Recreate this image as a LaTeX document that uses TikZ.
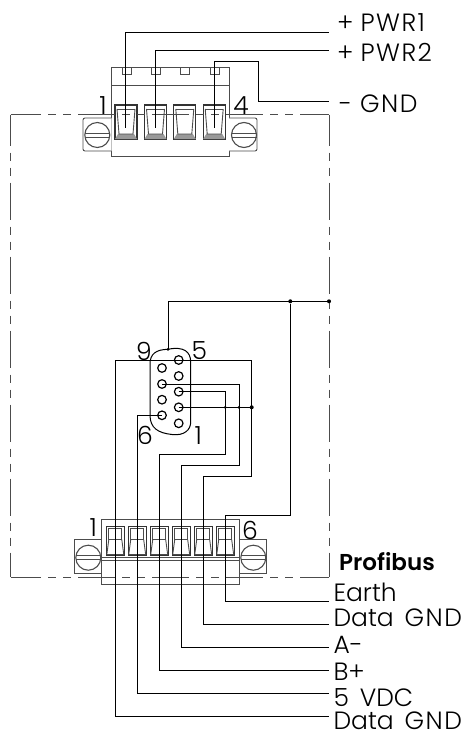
\documentclass[tikz,border=0pt]{standalone}
\usepackage{fontspec}
\setmainfont{Poppins Light}
\newfontfamily\boldLabel{Poppins SemiBold}
\newfontfamily\wideLabel[LetterSpace=6]{Poppins Light}
\usetikzlibrary{positioning}
\tikzset{
    wire/.style={black, line width=0.9pt},
    frameLine/.style={black!70, line width=1pt, dash pattern=on 37pt off 7pt on 8pt off 7pt on 8pt off 7pt, dash phase=6.5pt},
    partLine/.style={black!70, line width=0.9pt},
    wireLabel/.style={anchor=base west, font=\fontsize{25}{25}\selectfont, inner sep=0pt},
    pinLabel/.style={font=\fontsize{25}{25}\selectfont, inner sep=0pt},
    junction/.style={circle, fill=black, inner sep=0pt, minimum size=4pt},
}
\tikzset{
    screw/.pic={
		\draw[partLine, line width=1.1pt] (0,0) circle (12.5);
		\draw[partLine] (-12.5,-2) -- (12.5,-2);
		\draw[partLine] (-12.5,2) -- (12.5,2);
	}
}
\tikzset{
    plugTop/.pic={
		\draw[black!80, line width=1.2pt] (0,0) rectangle (22,34);
		\fill[black!40] (0,34) -- (22,34) -- (19,29) -- (3,29) -- cycle;
		\draw[partLine] (2,4) -- (4,29) -- (18,29) -- (20,4);
		\draw[partLine] (2,4) -- (20,4);
	}
}
\tikzset{
    plugBottom/.pic={
		\draw[black!80, line width=1pt] (0,0) rectangle (18,29);
		\draw[partLine] (2.5,2) rectangle (15.5,13);
		\draw[partLine] (2.5,13) -- (0.5,28);
		\draw[partLine] (15.5,13) -- (17.5,28);
		\draw[partLine] (0.5,28) -- (17.5,28);
	}
}
\tikzset{
    subPin/.pic={
		\draw[black, line width=1.2pt] (0,0) circle (4.3);
	}
}
\begin{document}
\begin{tikzpicture}[x=1pt,y=-1pt]
	\useasboundingbox (0,0) rectangle (466,733);
	\fill[white] (0,0) rectangle (466,733);

	% power connector
	\filldraw[partLine, fill=white] (111.7,67.7) rectangle (229,156.7);
	\draw[partLine] (111.7,85) -- (229,85);
	\foreach \x in {122,151.3,180.7,210} {
		\draw[partLine, line width=1pt] (\x,67.7) -- (\x,75) -- (\x+9,75) -- (\x+9,67.7);
	}
	\foreach \x in {115,144.5,173.8,203.2} {
		\pic at(\x,105) {plugTop};
	}
	\filldraw[partLine, fill=white, rounded corners=2pt] (111.7,118) -- (83,118) -- (83,151) -- (111.7,151);
	\filldraw[partLine, fill=white, rounded corners=2pt] (229,118) -- (257,118) -- (257,151) -- (229,151);
	\pic at(97.3,135) {screw};
	\pic at(244,135) {screw};
	\node[pinLabel] (pwrOne) at(103,106) {1};
	\node[pinLabel] (pwrFour) at(241,106) {4};

	% profibus connector
	\filldraw[partLine, fill=white] (101.7,519.3) rectangle (239,584.3);
	\draw[partLine, line width=1pt] (101.7,557.3) -- (239,557.3);
	\draw[partLine, line width=1pt] (101.7,560.3) -- (239,560.3);
	\foreach \x in {106.3,128.2,150.2,172.2,194.2,216.2} {
		\pic at(\x,526.7) {plugBottom};
	}
	\filldraw[partLine, fill=white] (74.3,539.3) rectangle (101.7,573.3);
	\filldraw[partLine, fill=white] (239,539.3) rectangle (266,573.3);
	\pic at(88.3,557.7) {screw};
	\pic at(253.3,557.7) {screw};
	\node[pinLabel] (busOne) at(93.3,528) {1};
	\node[pinLabel] (busSix) at(250,530) {6};

	% enclosure
	\draw[frameLine] (10.7,115) -- (329,115);
	\draw[frameLine] (10.7,577) -- (329,577);
	\draw[frameLine] (10.7,115) -- (10.7,577);
	\draw[frameLine] (329,115) -- (329,577);

	% sub-d
	\draw[black, line width=1pt] (168,349.3) .. controls (156,349.5) and (150,354) .. (150,364)
		-- (150,415) .. controls (150,428) and (158,433) .. (172,434.5)
		.. controls (184,436) and (190.7,430) .. (190.7,422)
		-- (190.7,362) .. controls (190.7,352) and (184,346) .. (168,349.3);
	\foreach \y [count=\n] in {360,376,391.7,407.3,423.3} {
		\coordinate (pinR\n) at(178.7,\y);
		\pic at(pinR\n) {subPin};
	}
	\foreach \y [count=\n] in {368,384,399.7,415.3} {
		\coordinate (pinL\n) at(162,\y);
		\pic at(pinL\n) {subPin};
	}
	\node[pinLabel] (subNine) at(144,351) {9};
	\node[pinLabel] (subFive) at(199.3,351) {5};
	\node[pinLabel] (subSix) at(145,435.7) {6};
	\node[pinLabel] (subOne) at(198.3,435.7) {1};
	\coordinate (subTop) at(168,349.3);

	% labels
	\node[wireLabel] (pwrA) at(337,32) {+\hspace{7pt}{\wideLabel PWR1}};
	\node[wireLabel] (pwrB) at(337,62) {+\hspace{7pt}{\wideLabel PWR2}};
	\node[wireLabel] (gnd) at(339,113) {-\hspace{8pt}{\wideLabel GND}};
	\node[wireLabel, font=\boldLabel\fontsize{23}{23}\selectfont] (title) at(339,570.7) {Profibus};
	\node[wireLabel] (earth) at(333.3,601.7) {Earth};
	\node[wireLabel] (dataA) at(333.3,626) {Data\hspace{4pt} {\wideLabel GND}};
	\node[wireLabel] (aMinus) at(333.3,653) {A-};
	\node[wireLabel] (bPlus) at(333.3,680) {B+};
	\node[wireLabel] (vdc) at(333.3,706) {5\hspace{4pt} VDC};
	\node[wireLabel] (dataB) at(333.3,729) {Data\hspace{4pt} {\wideLabel GND}};

	% wires
	\coordinate (termA) at(125.7,128);
	\coordinate (termB) at(155.7,128);
	\coordinate (termD) at(214.3,128);
	\draw[wire] (termA) |- (329,32.3);
	\draw[wire] (termB) |- (329,50.3);
	\draw[wire] (termD) -- (214.3,61) -- (258,61) -- (258,101.3) -- (329,101.3);

	\node[junction] (shieldEnd) at(329,301.3) {};
	\node[junction] (shieldTap) at(290.3,301.3) {};
	\node[junction, minimum size=3pt] (subDot) at(subTop) {};
	\draw[wire] (subTop) |- (shieldEnd);
	\draw[wire] (shieldTap) -- (290.3,515) -- (225.3,515) |- (329,601.3);

	\node[junction] (gndTap) at(251.7,407.3) {};
	\node[junction, minimum size=3pt] (bTap) at(225.3,407.3) {};
	\node[junction, minimum size=3pt] (aTap) at(239,407.3) {};
	\draw[wire] (pinR4) -- (gndTap);
	\draw[wire] (203.3,624.3) -- (329,624.3);
	\draw[wire] (203.3,624.3) -- (203.3,476) -- (251.7,476) -- (251.7,360.3) -- (115.3,360.3) -- (115.3,716.3) -- (329,716.3);
	\draw[wire] (pinL2) -- (239.2,384) -- (239.2,465.7) -- (181,465.7) |- (329,647.3);
	\draw[wire] (pinR3) -- (225.3,391.7) -- (225.3,454.3) -- (159,454.3) |- (329,670.3);
	\draw[wire] (pinL4) -- (137.3,415.3) |- (329,693.7);
\end{tikzpicture}
\end{document}
